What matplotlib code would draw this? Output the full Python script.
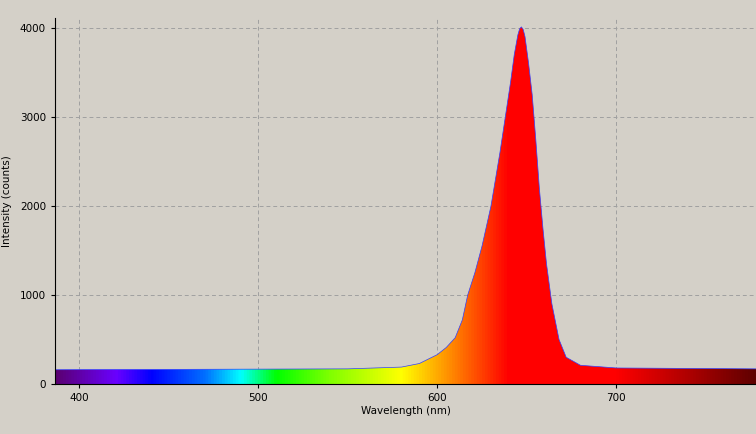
import numpy as np
import matplotlib
matplotlib.use("Agg")
import matplotlib.pyplot as plt
from matplotlib.colors import LinearSegmentedColormap
from matplotlib.patches import Polygon

BG = "#d4d0c8"

wavelength = [385, 550, 580, 590, 600, 605, 610, 614, 617, 621, 625, 630, 635, 638, 641,
              643, 645, 646, 647, 648, 649, 651, 653, 655, 657, 659, 661, 664, 668, 672,
              680, 700, 778]
intensity = [160, 170, 190, 230, 330, 410, 520, 720, 1000, 1250, 1550, 2000, 2600, 3000, 3400,
             3700, 3920, 3990, 4010, 3980, 3900, 3600, 3250, 2750, 2200, 1750, 1350, 900, 500, 300,
             210, 180, 170]

spec_wl = [385, 420, 440, 470, 490, 510, 540, 580, 610, 640, 700, 740, 778]
spec_col = ["#5a0070", "#6a00ff", "#0000ff", "#0070ff", "#00ffff", "#00ff00", "#80ff00",
            "#ffff00", "#ff8000", "#ff0000", "#ff0000", "#b00000", "#600000"]

xmin, xmax = 386.5, 778
pos = [(w - xmin) / (xmax - xmin) for w in spec_wl]
pos = [min(max(p, 0), 1) for p in pos]
pos[0], pos[-1] = 0.0, 1.0
cmap = LinearSegmentedColormap.from_list("spec", list(zip(pos, spec_col)))

fig = plt.figure(figsize=(7.56, 4.34), dpi=100, facecolor=BG)
ax = fig.add_axes([55 / 756, 1 - 384 / 434, 701 / 756, 366 / 434], facecolor=BG)

grad = np.linspace(0, 1, 512).reshape(1, -1)
im = ax.imshow(grad, cmap=cmap, aspect="auto", extent=[xmin, xmax, 0, 4200], zorder=1)
verts = [(xmin, 0)] + list(zip(wavelength, intensity)) + [(xmax, 0)]
clip = Polygon(verts, closed=True, transform=ax.transData, facecolor="none", edgecolor="none")
ax.add_patch(clip)
im.set_clip_path(clip)
ax.plot(wavelength, intensity, color="#3040ff", lw=0.5, zorder=2)

ax.set_xlim(xmin, xmax)
ax.set_ylim(0, 4110)
ax.set_xticks([400, 500, 600, 700])
ax.set_yticks([0, 1000, 2000, 3000, 4000])
ax.grid(True, color="#a0a0a0", linestyle=(0, (4, 3)), lw=0.7, zorder=0)
ax.set_axisbelow(True)
for s in ["top", "right"]:
    ax.spines[s].set_visible(False)
ax.tick_params(labelsize=7.5, length=3)
ax.set_xlabel("Wavelength (nm)", fontsize=7.5, labelpad=2)
ax.set_ylabel("Intensity (counts)", fontsize=7.5, labelpad=6)

fig.savefig("out.png", dpi=100, facecolor=BG)
